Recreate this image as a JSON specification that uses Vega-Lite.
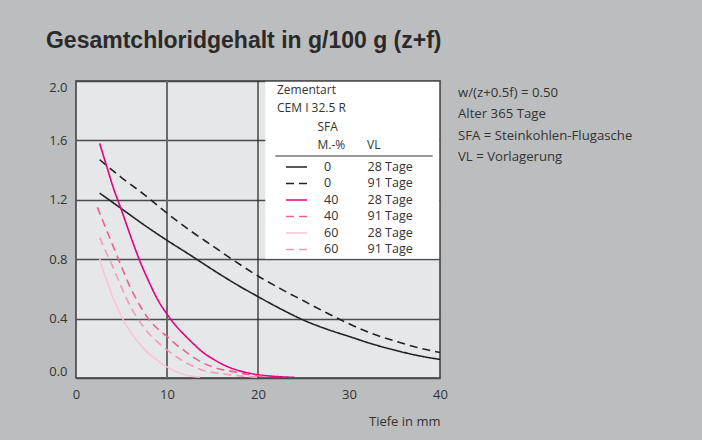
{
  "$schema": "https://vega.github.io/schema/vega-lite/v6.json",
  "background": "#bcbdbf",
  "padding": {"left": 45, "top": 30, "right": 5, "bottom": 12},
  "title": {"text": "Gesamtchloridgehalt in g/100 g (z+f)", "anchor": "start", "frame": "bounds", "font": "Liberation Sans", "fontSize": 23, "fontWeight": "bold", "color": "#2a2a2a", "offset": 26, "dx": -2},
  "config": {"font": "Open Sans", "view": {"stroke": null}},
  "spacing": 9,
  "resolve": {"scale": {"x": "independent", "y": "independent"}},
  "datasets": {
    "curves": [
      {"series": "0|28", "d": 2.6, "v": 1.245}, {"series": "0|28", "d": 5, "v": 1.14}, {"series": "0|28", "d": 7.5, "v": 1.03}, {"series": "0|28", "d": 10, "v": 0.927}, {"series": "0|28", "d": 12.5, "v": 0.83}, {"series": "0|28", "d": 15, "v": 0.73}, {"series": "0|28", "d": 17.5, "v": 0.635}, {"series": "0|28", "d": 20, "v": 0.548}, {"series": "0|28", "d": 22.5, "v": 0.465}, {"series": "0|28", "d": 25, "v": 0.39}, {"series": "0|28", "d": 27.5, "v": 0.33}, {"series": "0|28", "d": 30, "v": 0.28}, {"series": "0|28", "d": 32.5, "v": 0.23}, {"series": "0|28", "d": 35, "v": 0.188}, {"series": "0|28", "d": 37.5, "v": 0.152}, {"series": "0|28", "d": 40, "v": 0.125},
      {"series": "0|91", "d": 2.6, "v": 1.47}, {"series": "0|91", "d": 5, "v": 1.35}, {"series": "0|91", "d": 7.5, "v": 1.235}, {"series": "0|91", "d": 10, "v": 1.11}, {"series": "0|91", "d": 12.5, "v": 0.995}, {"series": "0|91", "d": 15, "v": 0.89}, {"series": "0|91", "d": 17.5, "v": 0.785}, {"series": "0|91", "d": 20, "v": 0.687}, {"series": "0|91", "d": 22.5, "v": 0.6}, {"series": "0|91", "d": 25, "v": 0.52}, {"series": "0|91", "d": 27.5, "v": 0.44}, {"series": "0|91", "d": 30, "v": 0.365}, {"series": "0|91", "d": 32.5, "v": 0.3}, {"series": "0|91", "d": 35, "v": 0.25}, {"series": "0|91", "d": 37.5, "v": 0.205}, {"series": "0|91", "d": 40, "v": 0.172},
      {"series": "40|28", "d": 2.6, "v": 1.58}, {"series": "40|28", "d": 3, "v": 1.5}, {"series": "40|28", "d": 3.5, "v": 1.4}, {"series": "40|28", "d": 4, "v": 1.3}, {"series": "40|28", "d": 5, "v": 1.13}, {"series": "40|28", "d": 6, "v": 0.955}, {"series": "40|28", "d": 7, "v": 0.79}, {"series": "40|28", "d": 8, "v": 0.65}, {"series": "40|28", "d": 9, "v": 0.525}, {"series": "40|28", "d": 10, "v": 0.43}, {"series": "40|28", "d": 11, "v": 0.35}, {"series": "40|28", "d": 12, "v": 0.285}, {"series": "40|28", "d": 13, "v": 0.225}, {"series": "40|28", "d": 14, "v": 0.17}, {"series": "40|28", "d": 15, "v": 0.13}, {"series": "40|28", "d": 16, "v": 0.095}, {"series": "40|28", "d": 17.5, "v": 0.057}, {"series": "40|28", "d": 19, "v": 0.033}, {"series": "40|28", "d": 20, "v": 0.022}, {"series": "40|28", "d": 22, "v": 0.01}, {"series": "40|28", "d": 24, "v": 0.004},
      {"series": "40|91", "d": 2.35, "v": 1.15}, {"series": "40|91", "d": 3, "v": 1.05}, {"series": "40|91", "d": 4, "v": 0.9}, {"series": "40|91", "d": 5, "v": 0.75}, {"series": "40|91", "d": 6, "v": 0.605}, {"series": "40|91", "d": 7, "v": 0.49}, {"series": "40|91", "d": 8, "v": 0.395}, {"series": "40|91", "d": 9, "v": 0.33}, {"series": "40|91", "d": 10, "v": 0.28}, {"series": "40|91", "d": 11, "v": 0.225}, {"series": "40|91", "d": 12, "v": 0.18}, {"series": "40|91", "d": 13, "v": 0.135}, {"series": "40|91", "d": 14, "v": 0.1}, {"series": "40|91", "d": 15, "v": 0.075}, {"series": "40|91", "d": 17.5, "v": 0.04}, {"series": "40|91", "d": 20, "v": 0.015}, {"series": "40|91", "d": 21, "v": 0.01},
      {"series": "60|28", "d": 2.6, "v": 0.805}, {"series": "60|28", "d": 3, "v": 0.72}, {"series": "60|28", "d": 3.5, "v": 0.64}, {"series": "60|28", "d": 4, "v": 0.55}, {"series": "60|28", "d": 4.5, "v": 0.48}, {"series": "60|28", "d": 5, "v": 0.415}, {"series": "60|28", "d": 6, "v": 0.31}, {"series": "60|28", "d": 7, "v": 0.23}, {"series": "60|28", "d": 8, "v": 0.165}, {"series": "60|28", "d": 9, "v": 0.117}, {"series": "60|28", "d": 10, "v": 0.075}, {"series": "60|28", "d": 11, "v": 0.043}, {"series": "60|28", "d": 12, "v": 0.022}, {"series": "60|28", "d": 13, "v": 0.01}, {"series": "60|28", "d": 13.6, "v": 0.006},
      {"series": "60|91", "d": 2.6, "v": 0.945}, {"series": "60|91", "d": 3, "v": 0.89}, {"series": "60|91", "d": 4, "v": 0.755}, {"series": "60|91", "d": 5, "v": 0.61}, {"series": "60|91", "d": 6, "v": 0.48}, {"series": "60|91", "d": 7, "v": 0.38}, {"series": "60|91", "d": 8, "v": 0.3}, {"series": "60|91", "d": 9, "v": 0.24}, {"series": "60|91", "d": 10, "v": 0.19}, {"series": "60|91", "d": 11, "v": 0.145}, {"series": "60|91", "d": 12, "v": 0.105}, {"series": "60|91", "d": 13, "v": 0.075}, {"series": "60|91", "d": 14, "v": 0.05}, {"series": "60|91", "d": 15, "v": 0.038}, {"series": "60|91", "d": 17.5, "v": 0.018}, {"series": "60|91", "d": 20, "v": 0.005}
    ],
    "notes": [
      {"line": 1, "text": "w/(z+0.5f) = 0.50"},
      {"line": 2, "text": "Alter 365 Tage"},
      {"line": 3, "text": "SFA = Steinkohlen-Flugasche"},
      {"line": 4, "text": "VL = Vorlagerung"}
    ]
  },
  "hconcat": [
    {
      "width": 364,
      "height": 297,
      "view": {"fill": "#e6e7e8", "stroke": "#3a3a3a", "strokeWidth": 1.5},
      "layer": [
        {
          "data": {"values": [{}]},
          "mark": {"type": "rect", "fill": "#ffffff"},
          "encoding": {
            "x": {"datum": 20.8, "type": "quantitative", "scale": {"domain": [0, 40], "nice": false}, "axis": {"values": [0, 10, 20, 30, 40], "grid": false, "domain": false, "ticks": false, "labelPadding": 10, "labelFontSize": 13, "labelColor": "#333333", "labelFlush": false, "title": "Tiefe in mm", "titleAnchor": "end", "titleFontWeight": "normal", "titleFontSize": 13, "titleColor": "#333333", "titlePadding": 14}},
            "x2": {"datum": 39.9},
            "y": {"datum": 0.803, "type": "quantitative", "scale": {"domain": [0, 2], "nice": false}, "axis": {"values": [0, 0.4, 0.8, 1.2, 1.6, 2.0], "format": ".1f", "grid": true, "gridColor": "#4a4a4a", "gridWidth": 1.4, "domain": false, "ticks": false, "labelFlush": true, "labelPadding": 9, "labelFontSize": 13, "labelColor": "#333333", "title": null}},
            "y2": {"datum": 1.995}
          }
        },
        {
          "data": {"values": [{}]},
          "mark": {"type": "rule", "color": "#6a6a6a", "strokeWidth": 2},
          "encoding": {"x": {"datum": 10, "type": "quantitative"}}
        },
        {
          "data": {"values": [{}]},
          "mark": {"type": "rule", "color": "#2e2e2e", "strokeWidth": 1.3},
          "encoding": {"x": {"datum": 20, "type": "quantitative"}}
        },
        {
          "data": {"values": [{}]},
          "mark": {"type": "rule", "color": "#333333", "strokeWidth": 1},
          "encoding": {"x": {"datum": 21.9, "type": "quantitative"}, "x2": {"datum": 39.2}, "y": {"datum": 1.495, "type": "quantitative"}}
        },
        {
          "data": {"name": "curves"},
          "mark": {"type": "line", "strokeWidth": 1.6, "interpolate": "monotone"},
          "encoding": {
            "x": {"field": "d", "type": "quantitative"},
            "y": {"field": "v", "type": "quantitative"},
            "color": {
              "field": "series", "type": "nominal",
              "scale": {"domain": ["0|28", "0|91", "40|28", "40|91", "60|28", "60|91"], "range": ["#222222", "#222222", "#e5007d", "#ef5f96", "#f9c4d4", "#f39bbb"]},
              "legend": {"orient": "none", "legendX": 201, "legendY": 4, "title": ["Zementart", "CEM I 32.5 R", "\u200b\u00a0\u00a0\u00a0\u00a0\u00a0\u00a0\u00a0\u00a0\u00a0\u00a0\u00a0\u00a0\u00a0SFA", "\u200b\u00a0\u00a0\u00a0\u00a0\u00a0\u00a0\u00a0\u00a0\u00a0\u00a0\u00a0\u00a0\u00a0M.-%\u00a0\u00a0\u00a0\u00a0\u00a0\u00a0\u00a0VL"], "titleFontWeight": "normal", "titleFontSize": 12, "titleColor": "#333333", "titleLineHeight": 18.3, "titlePadding": 7, "labelFontSize": 12.5, "labelColor": "#333333", "symbolType": "M-1.5,0H1.5", "symbolSize": 196, "symbolStrokeWidth": 1.5, "symbolOffset": 11.5, "labelOffset": 19.5, "rowPadding": 1.5, "padding": 0, "labelExpr": "(split(datum.label,'|')[0] == '0' ? '0\u2007' : split(datum.label,'|')[0]) + '\u00a0\u00a0\u00a0\u00a0\u00a0\u00a0\u00a0\u00a0\u00a0' + split(datum.label,'|')[1] + ' Tage'"}
            },
            "strokeDash": {
              "field": "series", "type": "nominal",
              "scale": {"domain": ["0|28", "0|91", "40|28", "40|91", "60|28", "60|91"], "range": [[1, 0], [8, 5], [1, 0], [8, 5], [1, 0], [8, 5]]},
              "legend": {"orient": "none", "legendX": 201, "legendY": 4, "title": ["Zementart", "CEM I 32.5 R", "\u200b\u00a0\u00a0\u00a0\u00a0\u00a0\u00a0\u00a0\u00a0\u00a0\u00a0\u00a0\u00a0\u00a0SFA", "\u200b\u00a0\u00a0\u00a0\u00a0\u00a0\u00a0\u00a0\u00a0\u00a0\u00a0\u00a0\u00a0\u00a0M.-%\u00a0\u00a0\u00a0\u00a0\u00a0\u00a0\u00a0VL"], "titleFontWeight": "normal", "titleFontSize": 12, "titleColor": "#333333", "titleLineHeight": 18.3, "titlePadding": 7, "labelFontSize": 12.5, "labelColor": "#333333", "symbolType": "M-1.5,0H1.5", "symbolSize": 196, "symbolStrokeWidth": 1.5, "symbolOffset": 11.5, "labelOffset": 19.5, "rowPadding": 1.5, "padding": 0, "labelExpr": "(split(datum.label,'|')[0] == '0' ? '0\u2007' : split(datum.label,'|')[0]) + '\u00a0\u00a0\u00a0\u00a0\u00a0\u00a0\u00a0\u00a0\u00a0' + split(datum.label,'|')[1] + ' Tage'"}
            }
          }
        }
      ]
    },
    {
      "width": 250,
      "height": 88,
      "data": {"name": "notes"},
      "mark": {"type": "text", "align": "left", "baseline": "middle", "fontSize": 13.2, "color": "#333333"},
      "encoding": {
        "y": {"field": "line", "type": "ordinal", "axis": null, "scale": {"type": "point", "padding": 0.544}},
        "x": {"datum": 0, "type": "quantitative", "scale": {"domain": [0, 1]}, "axis": null},
        "text": {"field": "text"}
      }
    }
  ]
}
